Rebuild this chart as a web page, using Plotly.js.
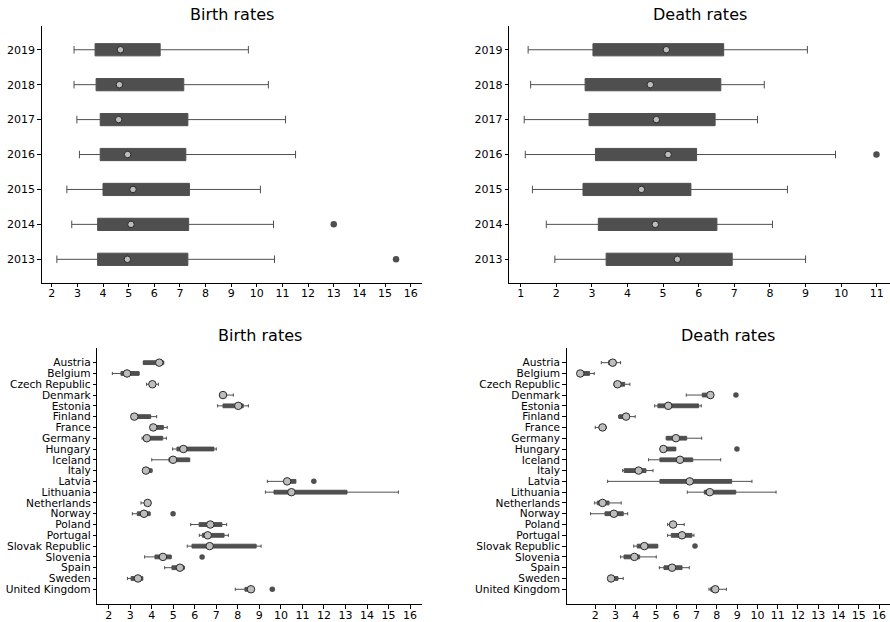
<!DOCTYPE html>
<html>
<head>
<meta charset="utf-8">
<script src="https://cdn.plot.ly/plotly-3.0.1.min.js"></script>
<style>html,body{margin:0;padding:0;background:#fff;}#chart{width:890px;height:622px;}</style>
</head>
<body>
<div id="chart"></div>
<script>
// ---------- Data: by year ----------
const years = ['2013', '2014', '2015', '2016', '2017', '2018', '2019'];

const birthYearLow  = [2.20, 2.78, 2.59, 3.08, 2.98, 2.87, 2.87];
const birthYearQ1   = [3.79, 3.79, 4.00, 3.89, 3.89, 3.73, 3.69];
const birthYearMean = [4.95, 5.09, 5.17, 4.96, 4.61, 4.64, 4.68];
const birthYearQ3   = [7.31, 7.34, 7.37, 7.23, 7.31, 7.15, 6.23];
const birthYearHigh = [10.69, 10.65, 10.14, 11.51, 11.12, 10.45, 9.67];
const birthYearOutX = [15.43, 13.0];
const birthYearOutY = ['2013', '2014'];

const deathYearLow  = [1.96, 1.72, 1.33, 1.13, 1.10, 1.28, 1.21];
const deathYearQ1   = [3.40, 3.18, 2.75, 3.10, 2.92, 2.81, 3.03];
const deathYearMean = [5.40, 4.78, 4.39, 5.14, 4.81, 4.64, 5.09];
const deathYearQ3   = [6.94, 6.51, 5.78, 5.94, 6.46, 6.62, 6.70];
const deathYearHigh = [9.00, 8.07, 8.49, 9.84, 7.65, 7.84, 9.05];
const deathYearOutX = [10.99];
const deathYearOutY = ['2016'];

// ---------- Data: by country ----------
const countries = ['Austria', 'Belgium', 'Czech Republic', 'Denmark', 'Estonia', 'Finland',
  'France', 'Germany', 'Hungary', 'Iceland', 'Italy', 'Latvia', 'Lithuania', 'Netherlands',
  'Norway', 'Poland', 'Portugal', 'Slovak Republic', 'Slovenia', 'Spain', 'Sweden', 'United Kingdom'];

const birthCountryLow  = [3.61, 2.17, 3.76, 7.15, 7.06, 3.12, 3.98, 3.55, 4.97, 4.00, 3.65,
  9.37, 9.28, 3.50, 3.10, 5.81, 6.21, 5.65, 3.67, 4.60, 2.87, 7.88];
const birthCountryQ1   = [3.61, 2.57, 3.90, 7.20, 7.31, 3.15, 4.00, 3.65, 5.17, 4.80, 3.68,
  10.20, 9.68, 3.70, 3.33, 6.20, 6.35, 5.87, 4.15, 4.94, 3.04, 8.33];
const birthCountryMean = [4.35, 2.85, 4.03, 7.31, 8.02, 3.19, 4.07, 3.77, 5.47, 4.99, 3.73,
  10.29, 10.49, 3.81, 3.64, 6.72, 6.60, 6.69, 4.52, 5.31, 3.36, 8.61];
const birthCountryQ3   = [4.54, 3.41, 4.15, 7.45, 8.25, 3.95, 4.54, 4.51, 6.89, 5.76, 4.00,
  10.69, 13.07, 3.88, 3.92, 7.26, 7.36, 8.85, 4.90, 5.50, 3.58, 8.65];
const birthCountryHigh = [4.56, 3.41, 4.31, 7.79, 8.49, 4.23, 4.72, 4.68, 7.00, 5.76, 4.02,
  10.69, 15.46, 3.90, 3.92, 7.48, 7.56, 9.08, 4.90, 5.52, 3.58, 8.68];
const birthCountryOutX = [11.53, 4.99, 6.34, 9.60];
const birthCountryOutY = ['Latvia', 'Norway', 'Slovenia', 'United Kingdom'];

const deathCountryLow  = [2.30, 1.20, 2.92, 6.49, 4.93, 3.15, 2.00, 5.50, 5.25, 4.63, 3.35,
  2.61, 6.54, 1.97, 1.77, 5.57, 5.57, 3.90, 3.25, 5.16, 2.70, 7.61];
const deathCountryQ1   = [2.66, 1.22, 2.98, 7.28, 5.09, 3.18, 2.20, 5.51, 5.28, 5.19, 3.43,
  5.19, 7.38, 2.10, 2.48, 5.70, 5.75, 4.07, 3.42, 5.39, 2.72, 7.70];
const deathCountryMean = [2.86, 1.26, 3.10, 7.68, 5.60, 3.52, 2.36, 5.98, 5.36, 6.18, 4.14,
  6.66, 7.65, 2.36, 2.92, 5.84, 6.28, 4.42, 3.93, 5.79, 2.78, 7.92];
const deathCountryQ3   = [3.02, 1.72, 3.45, 7.82, 7.10, 3.60, 2.50, 6.51, 5.97, 6.81, 4.50,
  8.73, 8.93, 2.68, 3.38, 5.95, 6.77, 5.08, 4.19, 6.28, 3.12, 8.05];
const deathCountryHigh = [3.25, 1.95, 3.71, 7.82, 7.23, 3.97, 2.55, 7.25, 5.97, 8.19, 4.85,
  9.73, 10.92, 3.28, 3.60, 6.39, 6.87, 5.08, 5.01, 6.64, 3.38, 8.47];
const deathCountryOutX = [8.94, 8.99, 6.92];
const deathCountryOutY = ['Denmark', 'Hungary', 'Slovak Republic'];

// ---------- Styles ----------
const BOX = '#4f4f4f';
const MEAN_FILL = '#bdbdbd';
const MEAN_LINE = '#2a2a2a';

function boxTrace(cats, low, q1, mean, q3, high, xa, ya, ww) {
  return {
    type: 'box', orientation: 'h', y: cats,
    q1: q1, median: mean, q3: q3, lowerfence: low, upperfence: high,
    boxpoints: false, fillcolor: BOX, line: {color: BOX, width: 1},
    whiskerwidth: ww, xaxis: xa, yaxis: ya, hoverinfo: 'skip'
  };
}
function meanTrace(cats, mean, xa, ya, size) {
  return {
    type: 'scatter', mode: 'markers', x: mean, y: cats, xaxis: xa, yaxis: ya,
    marker: {color: MEAN_FILL, size: size, line: {color: MEAN_LINE, width: 1}},
    hoverinfo: 'skip'
  };
}
function outTrace(xs, ys, xa, ya, size) {
  return {
    type: 'scatter', mode: 'markers', x: xs, y: ys, xaxis: xa, yaxis: ya,
    marker: {color: BOX, size: size, line: {width: 0}}, hoverinfo: 'skip'
  };
}

const data = [
  boxTrace(years, birthYearLow, birthYearQ1, birthYearMean, birthYearQ3, birthYearHigh, 'x', 'y', 0.62),
  meanTrace(years, birthYearMean, 'x', 'y', 6.5),
  outTrace(birthYearOutX, birthYearOutY, 'x', 'y', 6.5),

  boxTrace(years, deathYearLow, deathYearQ1, deathYearMean, deathYearQ3, deathYearHigh, 'x2', 'y2', 0.62),
  meanTrace(years, deathYearMean, 'x2', 'y2', 6.5),
  outTrace(deathYearOutX, deathYearOutY, 'x2', 'y2', 6.5),

  boxTrace(countries, birthCountryLow, birthCountryQ1, birthCountryMean, birthCountryQ3, birthCountryHigh, 'x3', 'y3', 0.85),
  meanTrace(countries, birthCountryMean, 'x3', 'y3', 7.5),
  outTrace(birthCountryOutX, birthCountryOutY, 'x3', 'y3', 5.5),

  boxTrace(countries, deathCountryLow, deathCountryQ1, deathCountryMean, deathCountryQ3, deathCountryHigh, 'x4', 'y4', 0.85),
  meanTrace(countries, deathCountryMean, 'x4', 'y4', 7.5),
  outTrace(deathCountryOutX, deathCountryOutY, 'x4', 'y4', 5.5)
];

const FONT = {family: 'DejaVu Sans, sans-serif', size: 11, color: '#000'};
const FONT_C = {family: 'DejaVu Sans, sans-serif', size: 10.6, color: '#000'};
function xAxis(domain, range, tickvals, anchor) {
  return {
    domain: domain, range: range, tickmode: 'array', tickvals: tickvals, anchor: anchor,
    showgrid: false, zeroline: false, showline: true, linecolor: '#000', linewidth: 1,
    ticks: 'outside', ticklen: 3.5, tickwidth: 1, tickcolor: '#000', tickfont: FONT,
    ticklabelstandoff: -3, fixedrange: true
  };
}
function yAxis(domain, range, cats, anchor, font) {
  return {
    domain: domain, range: range, type: 'category', categoryorder: 'array', categoryarray: cats,
    tickmode: 'array', tickvals: cats, ticktext: cats,
    anchor: anchor, showgrid: false, zeroline: false, showline: true, linecolor: '#000', linewidth: 1,
    ticks: 'outside', ticklen: 3.5, tickwidth: 1, tickcolor: '#000', tickfont: font, fixedrange: true
  };
}
const t2_16 = [2,3,4,5,6,7,8,9,10,11,12,13,14,15,16];
const t1_11 = [1,2,3,4,5,6,7,8,9,10,11];

const topY = [0.5455, 0.9582];
const botY = [0.0285, 0.4400];

const layout = {
  width: 890, height: 622,
  margin: {l: 0, r: 0, t: 0, b: 0},
  paper_bgcolor: '#fff', plot_bgcolor: '#fff',
  showlegend: false, boxgap: 0.5,
  font: FONT,
  xaxis:  xAxis([0.0469, 0.4738], [1.61, 16.43], t2_16, 'y'),
  yaxis:  yAxis(topY, [-0.67, 6.68], years, 'x', FONT),
  xaxis2: xAxis([0.5722, 1.0], [0.68, 11.37], t1_11, 'y2'),
  yaxis2: yAxis(topY, [-0.67, 6.68], years, 'x2', FONT),
  xaxis3: xAxis([0.1093, 0.4738], [1.47, 16.54], t2_16, 'y3'),
  yaxis3: yAxis(botY, [22.39, -1.33], countries, 'x3', FONT_C),
  xaxis4: xAxis([0.6367, 1.0], [0.59, 16.54], t2_16, 'y4'),
  yaxis4: yAxis(botY, [22.39, -1.33], countries, 'x4', FONT_C),
  annotations: [
    {text: 'Birth rates', x: 0.2603, y: 0.9767, xref: 'paper', yref: 'paper', showarrow: false, xanchor: 'center', yanchor: 'middle', font: {family: 'DejaVu Sans, sans-serif', size: 16, color: '#000'}},
    {text: 'Death rates', x: 0.7861, y: 0.9767, xref: 'paper', yref: 'paper', showarrow: false, xanchor: 'center', yanchor: 'middle', font: {family: 'DejaVu Sans, sans-serif', size: 16, color: '#000'}},
    {text: 'Birth rates', x: 0.2916, y: 0.4603, xref: 'paper', yref: 'paper', showarrow: false, xanchor: 'center', yanchor: 'middle', font: {family: 'DejaVu Sans, sans-serif', size: 16, color: '#000'}},
    {text: 'Death rates', x: 0.8183, y: 0.4603, xref: 'paper', yref: 'paper', showarrow: false, xanchor: 'center', yanchor: 'middle', font: {family: 'DejaVu Sans, sans-serif', size: 16, color: '#000'}}
  ]
};

Plotly.newPlot('chart', data, layout, {displayModeBar: false, staticPlot: true});
</script>
</body>
</html>
